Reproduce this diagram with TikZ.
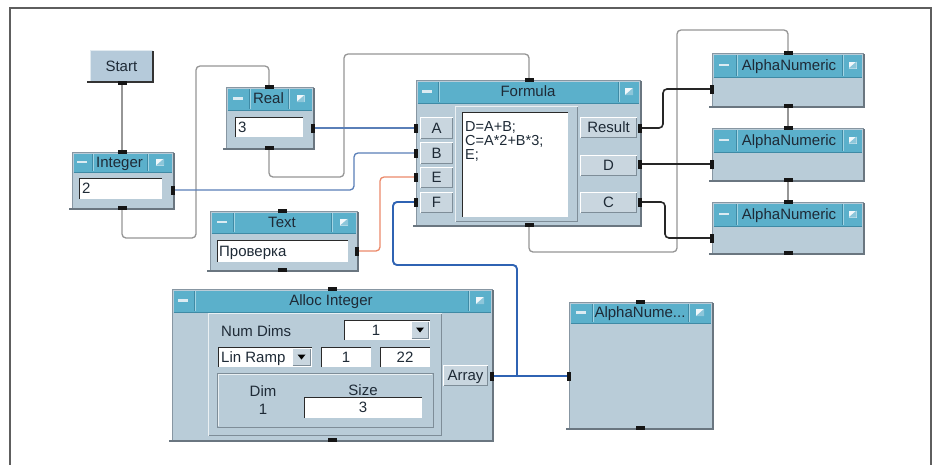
\documentclass[tikz,border=0pt]{standalone}
\usepackage{fontspec}
\setmainfont{Liberation Sans}
\definecolor{bodycol}{HTML}{B9CCD8}
\definecolor{titlecol}{HTML}{5BB0CB}
\definecolor{titlelt}{HTML}{A3D5E4}
\definecolor{titledk}{HTML}{3F8AA5}
\definecolor{btncol}{HTML}{C9D6DF}
\definecolor{btndk}{HTML}{7E8D98}
\definecolor{edgecol}{HTML}{8796A2}
\definecolor{shadowcol}{HTML}{6A7680}
\definecolor{txtcol}{HTML}{1E2A36}
\definecolor{seqcol}{HTML}{969696}
\definecolor{realcol}{HTML}{5A7FB8}
\definecolor{arrcol}{HTML}{2F63B3}
\definecolor{txtline}{HTML}{EC8A6A}
\definecolor{darkcol}{HTML}{262626}
\definecolor{framecol}{HTML}{5E5E5E}
\definecolor{pincol}{HTML}{151515}
\definecolor{minicol}{HTML}{DCEBF2}
\definecolor{menult}{HTML}{F2F8FB}
\definecolor{menumid}{HTML}{8CC6DA}
\definecolor{fielddk}{HTML}{2A2A2A}
\definecolor{startcol}{HTML}{B5CADA}
\tikzset{
  vfont/.style={font=\fontsize{15}{15}\selectfont, text=txtcol, inner sep=0pt, text height=10.7pt, text depth=0pt},
  codefont/.style={font=\fontsize{14.5}{14}\selectfont, text=txtcol, inner sep=0pt},
  objbody/.style={draw=edgecol, fill=bodycol, line width=0.8pt, inner sep=0pt, outer sep=0pt, anchor=north west},
  btn/.style={vfont, fill=btncol, anchor=north west, outer sep=0pt},
  fieldbox/.style={fill=white, draw=none, inner sep=0pt, outer sep=0pt, anchor=north west},
  panelbox/.style={fill=bodycol, draw=none, inner sep=0pt, outer sep=0pt, anchor=north west},
  pinh/.style={fill=pincol, inner sep=0pt, minimum width=9pt, minimum height=4.4pt},
  pinv/.style={fill=pincol, inner sep=0pt, minimum width=4.4pt, minimum height=9pt},
  seqline/.style={draw=seqcol, line width=1.3pt},
  realline/.style={draw=realcol, line width=1.3pt},
  textline/.style={draw=txtline, line width=1.3pt},
  arrline/.style={draw=arrcol, line width=1.9pt},
  darkline/.style={draw=darkcol, line width=1.6pt},
}
% object: name, x1, y1, x2, y2, title bottom, minimize right, menu left, title
\newcommand\veeobj[9]{%
  \node[objbody, minimum width={#4-#2}, minimum height={#5-#3}] (#1) at (#2,#3) {};
  \fill[titlecol] (#2+1.5,#3+1.5) rectangle (#4-1.5,#6);
  \draw[titledk, line width=0.6pt] (#2+1.5,#6) -- (#4-1.5,#6);
  \draw[titledk, line width=0.8pt] (#7,#3+2) -- (#7,#6-1) (#8,#3+2) -- (#8,#6-1);
  \draw[titlelt, line width=0.6pt] (#7+1,#3+2) -- (#7+1,#6-1) (#8+1,#3+2) -- (#8+1,#6-1);
  \fill[minicol] ({(#2+#7)/2-5},{(#3+#6)/2-1.2}) rectangle ({(#2+#7)/2+5},{(#3+#6)/2+1.2});
  \fill[menult] ({(#8+#4)/2-4},{(#3+#6)/2-3.5}) rectangle ({(#8+#4)/2+4},{(#3+#6)/2+3.5});
  \fill[menumid] ({(#8+#4)/2+4},{(#3+#6)/2-3.5}) -- ({(#8+#4)/2+4},{(#3+#6)/2+3.5}) -- ({(#8+#4)/2-4},{(#3+#6)/2+3.5}) -- cycle;
  \node[vfont] (#1-title) at ({(#7+#8)/2},{(#3+#6)/2}) {#9};
  \draw[shadowcol, line width=1.5pt] (#2-3,#5+1) -- (#4+1,#5+1) -- (#4+1,#3+1);
}
% button: name, x1, y1, x2, y2, text
\newcommand\vbtn[6]{%
  \node[btn, minimum width={#4-#2}, minimum height={#5-#3}] (#1) at (#2,#3) {#6};
  \draw[white, line width=0.8pt] (#2+0.5,#5-0.5) -- (#2+0.5,#3+0.5) -- (#4-0.5,#3+0.5);
  \draw[btndk, line width=0.8pt] (#2+0.5,#5-0.5) -- (#4-0.5,#5-0.5) -- (#4-0.5,#3+0.5);
}
% field: name, x1, y1, x2, y2
\newcommand\vfield[5]{%
  \node[fieldbox, minimum width={#4-#2}, minimum height={#5-#3}] (#1) at (#2,#3) {};
  \draw[fielddk, line width=1.2pt] (#2+0.6,#5) -- (#2+0.6,#3+0.6) -- (#4,#3+0.6);
}
% raised panel: name, x1, y1, x2, y2
\newcommand\vpanel[5]{%
  \node[panelbox, minimum width={#4-#2}, minimum height={#5-#3}] (#1) at (#2,#3) {};
  \draw[white!70!bodycol, line width=1pt] (#2+0.5,#5-0.5) -- (#2+0.5,#3+0.5) -- (#4-0.5,#3+0.5);
  \draw[btndk, line width=1pt] (#2+0.5,#5-0.5) -- (#4-0.5,#5-0.5) -- (#4-0.5,#3+0.5);
}
% drop-down arrow: name, x1, y1, x2, y2
\newcommand\vdrop[5]{%
  \vbtn{#1}{#2}{#3}{#4}{#5}{}
  \fill[black] ({(#2+#4)/2-4},{(#3+#5)/2-2.5}) -- ({(#2+#4)/2+4},{(#3+#5)/2-2.5}) -- ({(#2+#4)/2},{(#3+#5)/2+2.5}) -- cycle;
}
\begin{document}
\begin{tikzpicture}[x=1pt, y=-1pt]
\useasboundingbox (0,0) rectangle (933,464);
\fill[white] (0,0) rectangle (933,464);
\draw[framecol, line width=2pt] (9.5,470) -- (9.5,7.5) -- (931,7.5) -- (931,470);

% pin coordinates
\coordinate (start-out) at (122,83);
\coordinate (int-in) at (122,152);
\coordinate (int-sq) at (122,208);
\coordinate (int-out) at (173,190);
\coordinate (real-si) at (269,87);
\coordinate (real-sq) at (269,148);
\coordinate (real-out) at (313,128);
\coordinate (txt-si) at (282,211);
\coordinate (txt-sq) at (282,270);
\coordinate (txt-out) at (357,251);
\coordinate (form-si) at (529,80);
\coordinate (form-sq) at (529,225);
\coordinate (form-A) at (416,128);
\coordinate (form-B) at (416,153);
\coordinate (form-E) at (416,177);
\coordinate (form-F) at (416,202);
\coordinate (form-res) at (640,128);
\coordinate (form-D) at (640,164);
\coordinate (form-C) at (640,202);
\coordinate (an1-si) at (788,53);
\coordinate (an1-sq) at (788,106);
\coordinate (an1-in) at (712,89);
\coordinate (an2-si) at (788,128);
\coordinate (an2-sq) at (788,180);
\coordinate (an2-in) at (712,164);
\coordinate (an3-si) at (788,202);
\coordinate (an3-sq) at (788,253);
\coordinate (an3-in) at (712,238);
\coordinate (an4-si) at (640,302);
\coordinate (an4-sq) at (640,428);
\coordinate (an4-in) at (569,376);
\coordinate (alloc-si) at (332,289);
\coordinate (alloc-sq) at (332,440);
\coordinate (alloc-out) at (492,376);
\coordinate (junc) at (517,376);

% connectors
\begin{scope}[rounded corners=4pt]
  \draw[seqline] (start-out) -- (int-in);
  \draw[seqline] (int-sq) -- (122,238) -- (196,238) -- (196,66) -- (269,66) -- (real-si);
  \draw[seqline] (real-sq) -- (269,177) -- (344,177) -- (344,54) -- (529,54) -- (form-si);
  \draw[seqline] (form-sq) -- (529,252) -- (677,252) -- (677,30) -- (788,30) -- (an1-si);
  \draw[seqline] (an1-sq) -- (an2-si);
  \draw[seqline] (an2-sq) -- (an3-si);
  \draw[realline] (real-out) -- (form-A);
  \draw[realline] (int-out) -- (354,190) -- (354,153) -- (form-B);
  \draw[textline] (txt-out) -- (380,251) -- (380,177) -- (form-E);
  \draw[arrline] (alloc-out) -- (an4-in);
  \draw[arrline] (junc) -- (517,265) -- (393,265) -- (393,202) -- (form-F);
  \draw[darkline] (form-res) -- (663,128) -- (663,89) -- (an1-in);
  \draw[darkline] (form-D) -- (an2-in);
  \draw[darkline] (form-C) -- (665,202) -- (665,238) -- (an3-in);
\end{scope}

% Start
\node[vfont, fill=startcol, draw=white!60!startcol, line width=0.8pt, anchor=north west, minimum width=62pt, minimum height=31pt] (start) at (90,50) {Start};
\draw[black!80, line width=1.6pt] (87,82) -- (153,82) -- (153,51);

% Integer
\veeobj{int}{72}{152}{173}{208}{172}{92}{147}{Integer}
\vfield{int-field}{79}{178}{162}{199}
\node[vfont, anchor=west] (int-val) at (82,188.5) {2};

% Real
\veeobj{real}{226}{87}{313}{148}{110}{249}{288}{Real}
\vfield{real-field}{235}{117}{303}{137}
\node[vfont, anchor=west] (real-val) at (238,127) {3};

% Text
\veeobj{txt}{210}{211}{357}{270}{233}{233}{331}{Text}
\vfield{txt-field}{217}{240}{348}{262}
\node[vfont, anchor=west] (txt-val) at (219,251) {Проверка};

% Formula
\veeobj{form}{416}{80}{640}{225}{103}{438}{618}{Formula}
\vbtn{bA}{420}{117}{453}{139}{A}
\vbtn{bB}{420}{142}{453}{164}{B}
\vbtn{bE}{420}{167}{453}{188}{E}
\vbtn{bF}{420}{192}{453}{213}{F}
\vpanel{form-panel}{455}{106}{578}{222}
\vfield{form-code}{462}{112}{568}{217}
\node[codefont, anchor=base west] (code1) at (465,131) {D=A+B;};
\node[codefont, anchor=base west] (code2) at (465,145) {C=A*2+B*3;};
\node[codefont, anchor=base west] (code3) at (465,159) {E;};
\vbtn{bRes}{580}{117}{637}{138}{Result}
\vbtn{bD}{580}{155}{637}{176}{D}
\vbtn{bC}{580}{192}{637}{213}{C}

% AlphaNumeric displays
\veeobj{an1}{712}{53}{863}{106}{77}{736}{842}{AlphaNumeric}
\veeobj{an2}{712}{128}{863}{180}{152}{736}{842}{AlphaNumeric}
\veeobj{an3}{712}{202}{863}{253}{226}{736}{842}{AlphaNumeric}
\veeobj{an4}{569}{302}{712}{428}{323}{592}{688}{AlphaNume...}

% Alloc Integer
\veeobj{alloc}{172}{289}{492}{440}{312}{194}{468}{Alloc Integer}
\vpanel{alloc-panel}{208}{313}{442}{436}
\node[vfont, anchor=west] (numdims) at (221,331) {Num Dims};
\vfield{nd-field}{344}{320}{430}{340}
\node[vfont] (nd-val) at (376,330.5) {1};
\vdrop{nd-drop}{411}{321}{429}{339}
\vfield{lr-field}{218}{347}{312}{367}
\node[vfont, anchor=west] (lr-val) at (221,357.5) {Lin Ramp};
\vdrop{lr-drop}{292}{348}{311}{366}
\vfield{from-field}{321}{347}{371}{367}
\node[vfont] (from-val) at (346,357.5) {1};
\vfield{to-field}{380}{347}{430}{367}
\node[vfont] (to-val) at (405,357.5) {22};
\node[panelbox, draw=btndk, line width=0.8pt, minimum width=216pt, minimum height=54pt] (dimpanel) at (217,373) {};
\draw[white!70!bodycol, line width=0.8pt] (218.5,425.5) -- (218.5,374.5) -- (431.5,374.5);
\node[vfont] (dim-lbl) at (263,391) {Dim};
\node[vfont] (dim-val) at (263,409) {1};
\node[vfont] (size-lbl) at (363,390) {Size};
\vfield{size-field}{304}{397}{422}{418}
\node[vfont] (size-val) at (363,407.5) {3};
\vbtn{bArr}{443}{365}{488}{386}{Array}

% pins
\foreach \p in {start-out,int-in,int-sq,real-si,real-sq,txt-si,txt-sq,form-si,form-sq,an1-si,an1-sq,an2-si,an2-sq,an3-si,an3-sq,an4-si,an4-sq,alloc-si,alloc-sq}
  \node[pinh] at (\p) {};
\foreach \p in {int-out,real-out,txt-out,form-A,form-B,form-E,form-F,form-res,form-D,form-C,an1-in,an2-in,an3-in,an4-in,alloc-out}
  \node[pinv] at (\p) {};
\end{tikzpicture}
\end{document}
